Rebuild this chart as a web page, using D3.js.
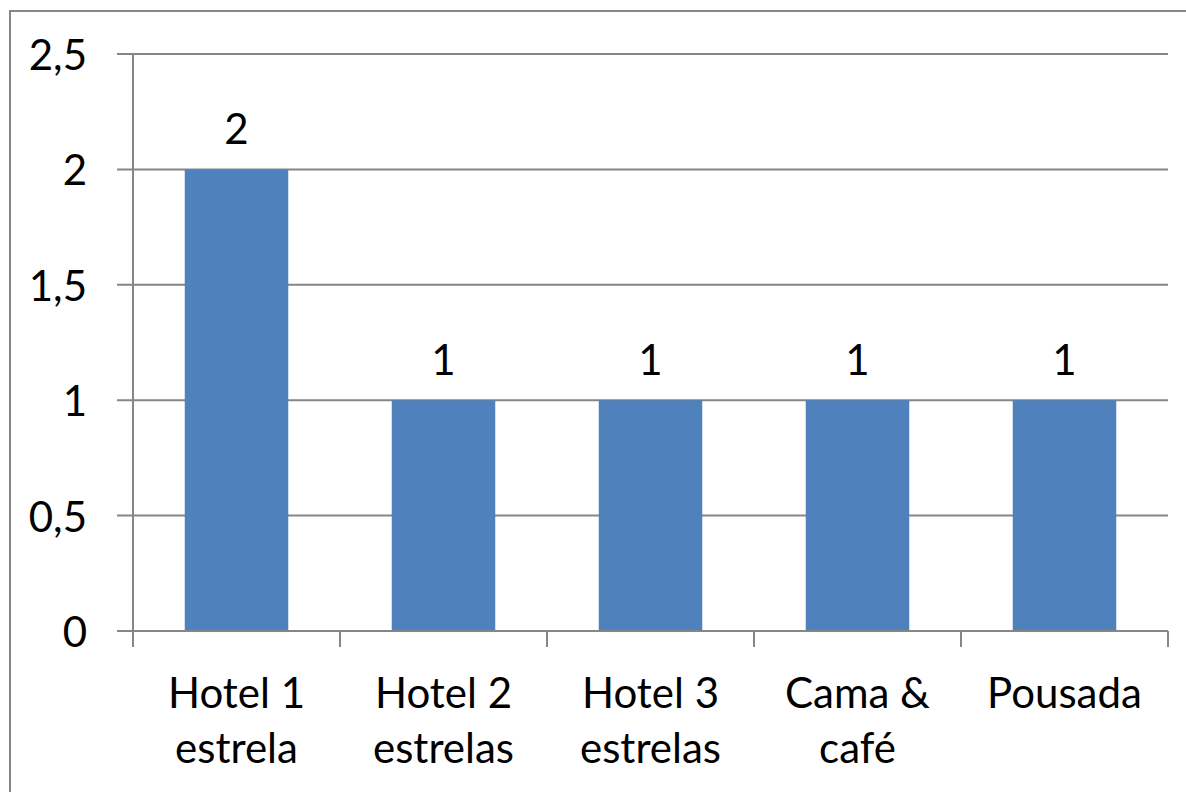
<!DOCTYPE html>
<html>
<head>
<meta charset="utf-8">
<script src="https://cdn.jsdelivr.net/npm/d3@7"></script>
<style>
  html, body { margin: 0; padding: 0; background: #fff; }
  svg text { font-family: Lato, "Open Sans", sans-serif; fill: #000; }
</style>
</head>
<body>
<svg id="chart" width="1186" height="792"></svg>
<script>
// Accommodation types and counts
const categories = [["Hotel 1", "estrela"], ["Hotel 2", "estrelas"], ["Hotel 3", "estrelas"], ["Cama &", "café"], ["Pousada"]];
const values = [2, 1, 1, 1, 1];
const yTicks = [0, 0.5, 1, 1.5, 2, 2.5];

const svg = d3.select("#chart");
const W = 1186, H = 792;
const plotLeft = 133, plotRight = 1168, plotTop = 54, plotBottom = 631;
const fontSize = 42;
const gridColor = "#868686";
const barColor = "#4F81BD";

// chart frame
svg.append("rect")
  .attr("x", 10).attr("y", 11)
  .attr("width", W).attr("height", H)
  .attr("fill", "none").attr("stroke", gridColor).attr("stroke-width", 2);

const x = d3.scaleBand().domain(d3.range(categories.length)).range([plotLeft, plotRight]).paddingInner(0.5).paddingOuter(0.25);
const y = d3.scaleLinear().domain([0, 2.5]).range([plotBottom, plotTop]);

const fmt = v => String(v).replace(".", ",");

// horizontal gridlines with left tick marks
const yAxis = svg.append("g");
yAxis.selectAll("line").data(yTicks).join("line")
  .attr("x1", plotLeft - 16).attr("x2", plotRight)
  .attr("y1", d => y(d)).attr("y2", d => y(d))
  .attr("stroke", gridColor).attr("stroke-width", 2);
yAxis.selectAll("text").data(yTicks).join("text")
  .attr("x", 87).attr("y", d => y(d))
  .attr("text-anchor", "end").attr("dominant-baseline", "central")
  .attr("font-size", fontSize)
  .text(fmt);

// vertical axis line
svg.append("line")
  .attr("x1", plotLeft).attr("x2", plotLeft).attr("y1", plotTop).attr("y2", plotBottom)
  .attr("stroke", gridColor).attr("stroke-width", 2);

// bars
svg.append("g").selectAll("rect").data(values).join("rect")
  .attr("x", (d, i) => x(i)).attr("width", x.bandwidth())
  .attr("y", d => y(d)).attr("height", d => y(0) - y(d))
  .attr("fill", barColor);

// value labels
svg.append("g").selectAll("text").data(values).join("text")
  .attr("x", (d, i) => x(i) + x.bandwidth() / 2)
  .attr("y", d => y(d) - 25)
  .attr("text-anchor", "middle").attr("font-size", fontSize)
  .text(d => fmt(d));

// category boundary ticks along the baseline
const step = (plotRight - plotLeft) / categories.length;
const xTicks = d3.range(categories.length + 1).map(i => plotLeft + i * step);
svg.append("g").selectAll("line").data(xTicks).join("line")
  .attr("x1", d => d).attr("x2", d => d)
  .attr("y1", plotBottom).attr("y2", plotBottom + 16)
  .attr("stroke", gridColor).attr("stroke-width", 2);

// baseline
svg.append("line")
  .attr("x1", plotLeft - 16).attr("x2", plotRight).attr("y1", plotBottom).attr("y2", plotBottom)
  .attr("stroke", gridColor).attr("stroke-width", 2);

// category labels
const catG = svg.append("g").selectAll("text").data(categories).join("text")
  .attr("text-anchor", "middle").attr("font-size", fontSize);
catG.selectAll("tspan").data((d, i) => d.map((s, j) => ({ s, j, i }))).join("tspan")
  .attr("x", d => x(d.i) + x.bandwidth() / 2)
  .attr("y", d => 708 + d.j * 55)
  .text(d => d.s);
</script>
</body>
</html>
